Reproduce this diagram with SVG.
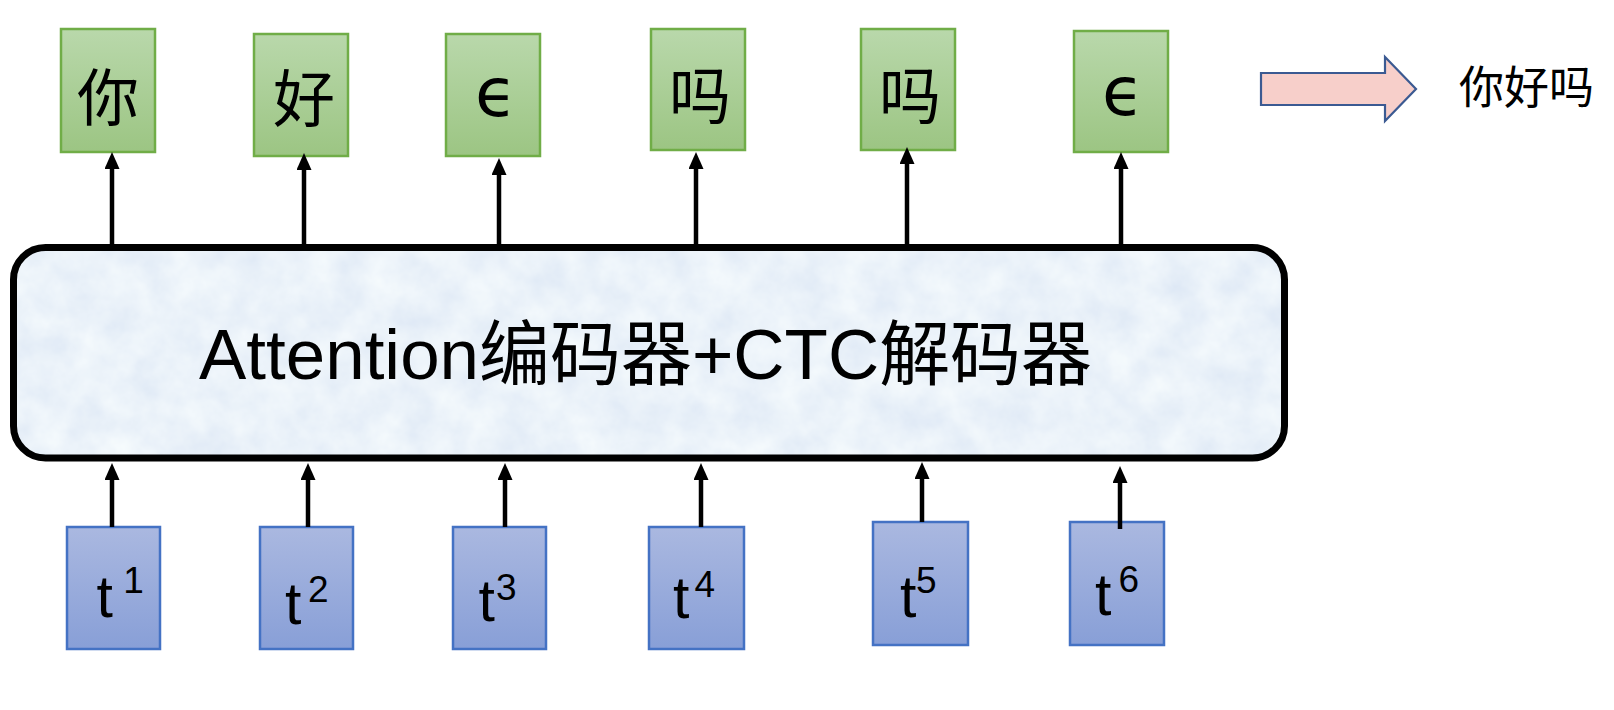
<svg xmlns="http://www.w3.org/2000/svg" width="1614" height="710" viewBox="0 0 1614 710">
<style>
.gbox{fill:url(#gGreen);stroke:#70ad47;stroke-width:2.5}
.bbox{fill:url(#gBlue);stroke:#4472c4;stroke-width:2.5}
.cjk{font-family:"Noto Sans CJK SC",sans-serif;fill:#000}
.lat{font-family:"Liberation Sans",Arial,sans-serif;fill:#000}
.tt{font-family:"Liberation Sans",Arial,sans-serif;fill:#000;font-size:59px}
.sup{font-family:"Liberation Sans",Arial,sans-serif;fill:#000;font-size:37px}
.eps{font-family:"DejaVu Sans",sans-serif;fill:#000;font-size:68px}
.conn{stroke:#000;stroke-width:4.5;fill:none;marker-end:url(#ah)}
</style>
<defs>
<linearGradient id="gGreen" x1="0" y1="0" x2="0" y2="1">
<stop offset="0" stop-color="#b9d8ab"/>
<stop offset="1" stop-color="#9cc583"/>
</linearGradient>
<linearGradient id="gBlue" x1="0" y1="0" x2="0" y2="1">
<stop offset="0" stop-color="#aab8e0"/>
<stop offset="1" stop-color="#889fd7"/>
</linearGradient>
<marker id="ah" markerUnits="userSpaceOnUse" markerWidth="17" markerHeight="15" refX="7" refY="7.5" orient="auto">
<path d="M0,0 L17,7.5 L0,15 Z" fill="#000"/>
</marker>
<clipPath id="bigClip"><rect x="13.5" y="247.5" width="1271" height="210.5" rx="32" ry="32"/></clipPath>
<filter id="tex" x="0" y="0" width="1" height="1" filterUnits="objectBoundingBox">
<feTurbulence type="fractalNoise" baseFrequency="0.03" numOctaves="4" seed="7" result="n"/>
<feColorMatrix in="n" type="matrix" values="0.22 0 0 0 0.72  0.18 0 0 0 0.80  0.08 0 0 0 0.91  0 0 0 0 1"/>
</filter>
</defs>
<rect width="1614" height="710" fill="#fff"/>

<g id="encoder">
<rect x="13.5" y="247.5" width="1271" height="210.5" rx="32" ry="32" fill="#d5e3f4"/>
<rect x="13.5" y="247.5" width="1271" height="210.5" filter="url(#tex)" clip-path="url(#bigClip)"/>
<rect x="13.5" y="247.5" width="1271" height="210.5" rx="32" ry="32" fill="none" stroke="#000" stroke-width="7"/>
<text x="199" y="379" font-size="71" textLength="893" lengthAdjust="spacingAndGlyphs" class="lat"><tspan>Attention</tspan><tspan class="cjk">编码器</tspan><tspan>+CTC</tspan><tspan class="cjk">解码器</tspan></text>
</g>

<g id="out1"><rect class="gbox" x="61" y="29" width="94" height="123"/><text class="cjk" x="108" y="121" font-size="62" text-anchor="middle">你</text></g>
<g id="out2"><rect class="gbox" x="254" y="34" width="94" height="122"/><text class="cjk" x="304" y="122" font-size="62" text-anchor="middle">好</text></g>
<g id="out3"><rect class="gbox" x="446" y="34" width="94" height="122"/><text class="eps" x="496" y="116" text-anchor="middle">ϵ</text></g>
<g id="out4"><rect class="gbox" x="651" y="29" width="94" height="121"/><text class="cjk" x="700" y="119" font-size="62" text-anchor="middle">吗</text></g>
<g id="out5"><rect class="gbox" x="861" y="29" width="94" height="121"/><text class="cjk" x="910" y="119" font-size="62" text-anchor="middle">吗</text></g>
<g id="out6"><rect class="gbox" x="1074" y="31" width="94" height="121"/><text class="eps" x="1123" y="115" text-anchor="middle">ϵ</text></g>

<g id="in1"><rect class="bbox" x="67" y="527" width="93" height="122"/><text class="tt" x="96.5" y="617">t</text><text class="sup" x="123.3" y="593">1</text></g>
<g id="in2"><rect class="bbox" x="260" y="527" width="93" height="122"/><text class="tt" x="285" y="624">t</text><text class="sup" x="308" y="602">2</text></g>
<g id="in3"><rect class="bbox" x="453" y="527" width="93" height="122"/><text class="tt" x="478.5" y="621">t</text><text class="sup" x="496" y="600">3</text></g>
<g id="in4"><rect class="bbox" x="649" y="527" width="95" height="122"/><text class="tt" x="673" y="618">t</text><text class="sup" x="694.5" y="597">4</text></g>
<g id="in5"><rect class="bbox" x="873" y="522" width="95" height="123"/><text class="tt" x="900" y="617">t</text><text class="sup" x="916" y="593">5</text></g>
<g id="in6"><rect class="bbox" x="1070" y="522" width="94" height="123"/><text class="tt" x="1095" y="615">t</text><text class="sup" x="1118.5" y="592">6</text></g>

<g id="result">
<polygon points="1261,73 1385,73 1385,57 1416,89 1385,121 1385,105 1261,105" fill="#f7cfca" stroke="#3b5a92" stroke-width="2.2"/>
<text class="cjk" x="1459" y="104" font-size="45">你好吗</text>
</g>

<g id="connectors">
<line class="conn" x1="112" y1="244" x2="112" y2="162"/>
<line class="conn" x1="304" y1="244" x2="304" y2="163"/>
<line class="conn" x1="499" y1="244" x2="499" y2="168"/>
<line class="conn" x1="696" y1="244" x2="696" y2="162"/>
<line class="conn" x1="907" y1="244" x2="907" y2="157"/>
<line class="conn" x1="1121" y1="244" x2="1121" y2="162"/>
<line class="conn" x1="112" y1="527" x2="112" y2="473"/>
<line class="conn" x1="308" y1="527" x2="308" y2="473"/>
<line class="conn" x1="505" y1="527" x2="505" y2="473"/>
<line class="conn" x1="701" y1="527" x2="701" y2="473"/>
<line class="conn" x1="922" y1="522" x2="922" y2="472"/>
<line class="conn" x1="1120" y1="529" x2="1120" y2="476"/>
</g>
</svg>
